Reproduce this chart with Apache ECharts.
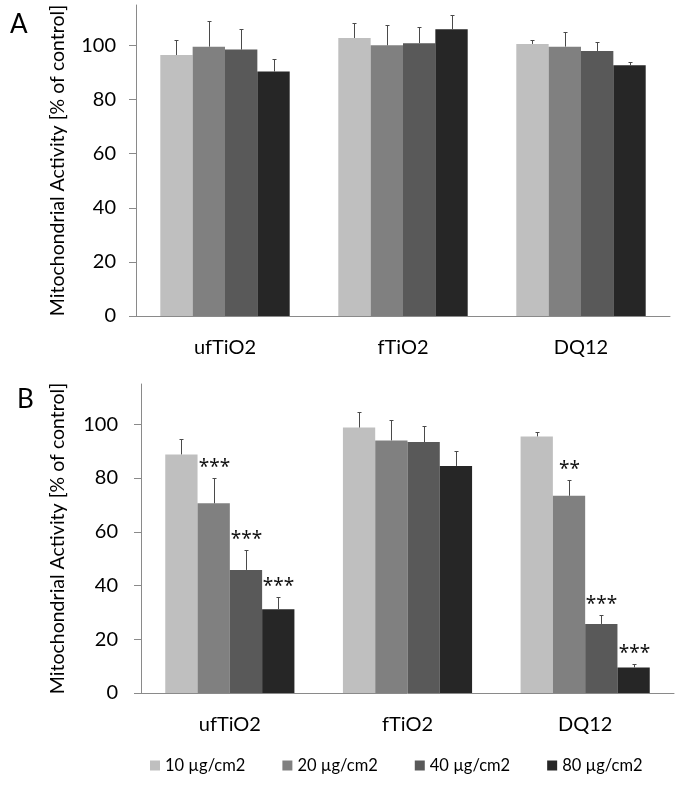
<!DOCTYPE html>
<html><head><meta charset="utf-8">
<script src="https://cdn.jsdelivr.net/npm/echarts@6/dist/echarts.min.js"></script>
<style>html,body{margin:0;padding:0;background:#fff}#c{width:685px;height:788px}</style>
</head><body><div id="c"></div>
<script>
// ---- data ----
const categories = ['ufTiO2', 'fTiO2', 'DQ12'];
const doses = ['10 µg/cm2', '20 µg/cm2', '40 µg/cm2', '80 µg/cm2'];
const yTicks = [0, 20, 40, 60, 80, 100];
const yTitle = 'Mitochondrial Activity [% of control]';

// Panel A means / upper error (SD)
const meanA_10 = [96.5, 102.8, 100.6];
const meanA_20 = [99.6, 100.1, 99.6];
const meanA_40 = [98.5, 100.9, 98.0];
const meanA_80 = [90.4, 106.0, 92.7];
const errA_10 = [5.5, 5.6, 1.6];
const errA_20 = [9.4, 7.4, 5.6];
const errA_40 = [7.5, 5.9, 3.5];
const errA_80 = [4.8, 5.2, 1.4];

// Panel B means / upper error (SD) / significance
const meanB_10 = [88.8, 98.8, 95.5];
const meanB_20 = [70.6, 94.0, 73.4];
const meanB_40 = [45.8, 93.4, 25.7];
const meanB_80 = [31.2, 84.5, 9.5];
const errB_10 = [5.7, 5.7, 1.6];
const errB_20 = [9.3, 7.5, 5.7];
const errB_40 = [7.6, 5.9, 3.5];
const errB_80 = [4.7, 5.4, 1.3];
const sigB_10 = ['', '', ''];
const sigB_20 = ['***', '', '**'];
const sigB_40 = ['***', '', '***'];
const sigB_80 = ['***', '', '***'];

// ---- styling ----
const colors = ['#bfbfbf', '#808080', '#595959', '#262626'];
const FONT = 'Lato';
const GAP = 0.273;

const meansA = [meanA_10, meanA_20, meanA_40, meanA_80];
const errsA = [errA_10, errA_20, errA_40, errA_80];
const meansB = [meanB_10, meanB_20, meanB_40, meanB_80];
const errsB = [errB_10, errB_20, errB_40, errB_80];
const sigsB = [sigB_10, sigB_20, sigB_40, sigB_80];
const noSig = ['', '', ''];

function errSeries(panel, si, means, errs, sigs) {
  return {
    type: 'custom', xAxisIndex: panel, yAxisIndex: panel, z: 5,
    data: means.map((m, i) => [i, m, errs[i]]),
    encode: { x: 0, y: 1 },
    renderItem: function (params, api) {
      const cat = api.value(0), mean = api.value(1), err = api.value(2);
      const band = api.size([1, 0])[0];
      const groupW = band * (1 - GAP);
      const barW = groupW / 4;
      const base = api.coord([cat, mean]);
      const x = Math.round(base[0] - groupW / 2 + (si + 0.5) * barW) + 0.5;
      const top = Math.round(api.coord([cat, mean + err])[1]) + 0.5;
      const st = { stroke: '#4a4a4a', lineWidth: 1 };
      const children = [
        { type: 'line', shape: { x1: x, y1: base[1], x2: x, y2: top }, style: st },
        { type: 'line', shape: { x1: x - 2, y1: top, x2: x + 2, y2: top }, style: st }
      ];
      const s = sigs[params.dataIndex];
      if (s) {
        children.push({ type: 'text', style: { text: s, x: x, y: top - 11, textAlign: 'center', textVerticalAlign: 'middle', fill: '#111', font: '19px "Noto Sans"' } });
      }
      return { type: 'group', children: children };
    }
  };
}

const series = [];
doses.forEach((d, si) => {
  series.push({ name: d, type: 'bar', xAxisIndex: 0, yAxisIndex: 0, data: meansA[si], barGap: '0%', barCategoryGap: (GAP * 100) + '%', itemStyle: { color: colors[si] }, emphasis: { disabled: true } });
});
doses.forEach((d, si) => {
  series.push({ name: d, type: 'bar', xAxisIndex: 1, yAxisIndex: 1, data: meansB[si], barGap: '0%', barCategoryGap: (GAP * 100) + '%', itemStyle: { color: colors[si] }, emphasis: { disabled: true } });
});
doses.forEach((d, si) => series.push(errSeries(0, si, meansA[si], errsA[si], noSig)));
doses.forEach((d, si) => series.push(errSeries(1, si, meansB[si], errsB[si], sigsB[si])));

function xAx(idx) {
  return { type: 'category', gridIndex: idx, data: categories,
    axisLine: { lineStyle: { color: '#8a8a8a', width: 1 } }, axisTick: { show: false },
    axisLabel: { color: '#000', fontFamily: FONT, fontSize: 20, margin: 22 } };
}
function yAx(idx, gap, lblMargin) {
  return { type: 'value', gridIndex: idx, min: 0, max: 115, interval: 20,
    splitLine: { show: false },
    axisLine: { show: true, lineStyle: { color: '#8a8a8a', width: 1 } },
    axisTick: { show: true, length: 7, customValues: yTicks, lineStyle: { color: '#8a8a8a' } },
    axisLabel: { color: '#000', fontFamily: FONT, fontSize: 20, margin: lblMargin, customValues: yTicks },
    name: yTitle, nameLocation: 'middle', nameGap: gap,
    nameTextStyle: { color: '#000', fontFamily: FONT, fontSize: 19.5 } };
}

const chart = echarts.init(document.getElementById('c'), null, { renderer: 'canvas' });
chart.setOption({
  animation: false,
  backgroundColor: '#fff',
  grid: [
    { left: 136, top: 5, width: 534, height: 311 },
    { left: 141, top: 384, width: 533, height: 309 }
  ],
  xAxis: [xAx(0), xAx(1)],
  yAxis: [yAx(0, 68, 20), yAx(1, 73, 23)],
  legend: { data: doses, left: 145, top: 752, itemWidth: 10, itemHeight: 10, itemGap: 37, icon: 'rect',
    textStyle: { color: '#000', fontFamily: FONT, fontSize: 16.5 } },
  graphic: [
    { type: 'text', left: 10, top: 12, style: { text: 'A', font: '26px ' + FONT, fill: '#000' } },
    { type: 'text', left: 17, top: 387, style: { text: 'B', font: '26px ' + FONT, fill: '#000' } }
  ],
  series: series
});
</script>
</body></html>
